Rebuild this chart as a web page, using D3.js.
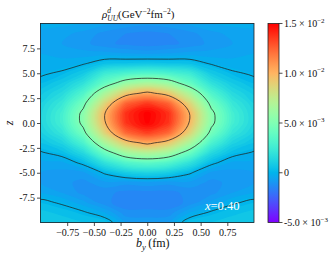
<!DOCTYPE html>
<html>
<head>
<meta charset="utf-8">
<script src="https://cdn.jsdelivr.net/npm/d3@7"></script>
<style>
  body { margin: 0; background: #fff; }
  svg { display: block; font-family: 'Liberation Serif', 'Times New Roman', serif; }
</style>
</head>
<body>
<svg width="335" height="260"></svg>
<script>
// where the density was sampled (b_y across, z down the rows)
const bValues = [-1, -0.8, -0.6, -0.4, -0.2, 0, 0.2, 0.4, 0.6, 0.8, 1]
const zValues = [10, 9, 8, 7, 6, 5, 4, 3, 2, 1, 0, -1, -2, -3, -4, -5, -6, -7, -8, -9, -10]

// rho values, one row per z value
const rhoRows = [
  [-0.0003, -0.0003, -0.0004, -0.0006, -0.0008, -0.0009, -0.0008, -0.0006, -0.0004, -0.0003, -0.0003],
  [-0.0005, -0.0006, -0.0008, -0.0011, -0.0013, -0.0014, -0.0013, -0.0011, -0.0008, -0.0006, -0.0005],
  [-0.0005, -0.0007, -0.0009, -0.0012, -0.0014, -0.0015, -0.0014, -0.0012, -0.0009, -0.0007, -0.0005],
  [-0.0004, -0.0005, -0.0006, -0.0006, -0.0007, -0.0008, -0.0007, -0.0006, -0.0006, -0.0005, -0.0004],
  [-0.0003, -0.0003, -0.0001, 0.0004, 0.0005, 0.0006, 0.0005, 0.0004, -0.0001, -0.0003, -0.0003],
  [-0.0001, 0.0001, 0.0008, 0.0024, 0.0030, 0.0033, 0.0030, 0.0024, 0.0008, 0.0001, -0.0001],
  [0.0002, 0.0008, 0.0019, 0.0040, 0.0060, 0.0067, 0.0060, 0.0040, 0.0019, 0.0008, 0.0002],
  [0.0007, 0.0015, 0.0032, 0.0066, 0.0092, 0.0104, 0.0092, 0.0066, 0.0032, 0.0015, 0.0007],
  [0.0011, 0.0022, 0.0045, 0.0086, 0.0124, 0.0135, 0.0124, 0.0086, 0.0045, 0.0022, 0.0011],
  [0.0013, 0.0027, 0.0054, 0.0099, 0.0138, 0.0151, 0.0138, 0.0099, 0.0054, 0.0027, 0.0013],
  [0.0013, 0.0027, 0.0054, 0.0098, 0.0137, 0.0150, 0.0137, 0.0098, 0.0054, 0.0027, 0.0013],
  [0.0010, 0.0021, 0.0045, 0.0087, 0.0123, 0.0134, 0.0123, 0.0087, 0.0045, 0.0021, 0.0010],
  [0.0005, 0.0012, 0.0030, 0.0066, 0.0092, 0.0104, 0.0092, 0.0066, 0.0030, 0.0012, 0.0005],
  [-0.0001, 0.0003, 0.0015, 0.0041, 0.0063, 0.0070, 0.0063, 0.0041, 0.0015, 0.0003, -0.0001],
  [-0.0005, -0.0005, 0.0002, 0.0019, 0.0032, 0.0037, 0.0032, 0.0019, 0.0002, -0.0005, -0.0005],
  [-0.0007, -0.0008, -0.0008, 0.0001, 0.0009, 0.0012, 0.0009, 0.0001, -0.0008, -0.0008, -0.0007],
  [-0.0007, -0.0009, -0.0011, -0.0008, -0.0009, -0.0008, -0.0009, -0.0008, -0.0011, -0.0009, -0.0007],
  [-0.0004, -0.0007, -0.0011, -0.0012, -0.0014, -0.0014, -0.0014, -0.0012, -0.0011, -0.0007, -0.0004],
  [0.0002, -0.0001, -0.0006, -0.0012, -0.0015, -0.0015, -0.0015, -0.0012, -0.0006, -0.0001, 0.0002],
  [0.0006, 0.0004, 0.0001, -0.0004, -0.0012, -0.0012, -0.0012, -0.0004, 0.0001, 0.0004, 0.0006],
  [0.0008, 0.0007, 0.0005, 0.0004, -0.0007, -0.0008, -0.0007, 0.0004, 0.0005, 0.0007, 0.0008]
]

// black line levels
const contourLevels = [0, 0.005, 0.01]

const xTicks = [-0.75, -0.5, -0.25, 0, 0.25, 0.5, 0.75]
const xTickLabels = ['\u22120.75', '\u22120.50', '\u22120.25', '0.00', '0.25', '0.50', '0.75']
const yTicks = [-7.5, -5, -2.5, 0, 2.5, 5, 7.5]
const yTickLabels = ['-7.5', '-5.0', '-2.5', '0.0', '2.5', '5.0', '7.5']

// colorbar ticks: mantissa and power of ten
const cbTicks = [-0.005, 0, 0.005, 0.01, 0.015]
const cbMantissa = ['-5.0', '0', '5.0', '1.0', '1.5']
const cbExponent = ['\u22123', null, '\u22123', '\u22122', '\u22122']

const svg = d3.select('svg')

// plot box
const box = {left: 40.5, right: 254, top: 23.5, bottom: 222.5}
const boxW = box.right - box.left
const boxH = box.bottom - box.top

const xScale = d3.scaleLinear().domain([-1, 1]).range([box.left, box.right])
const yScale = d3.scaleLinear().domain([-10, 10]).range([box.bottom, box.top])

// matplotlib "rainbow" colormap
const rainbow = t => {
  const c = v => Math.round(255 * Math.max(0, Math.min(1, v)))
  return `rgb(${c(Math.abs(2 * t - 0.5))},${c(Math.sin(Math.PI * t))},${c(Math.cos(Math.PI * t / 2))})`
}
const norm = d3.scaleLinear().domain([-0.005, 0.015]).range([0, 1]).clamp(true)
const color = v => rainbow(norm(v))

// contours work in grid units, sample i sits at i + 0.5
const n = bValues.length, m = zValues.length
const values = rhoRows.flat()
const gx = d3.scaleLinear().domain([0.5, n - 0.5]).range([xScale(bValues[0]), xScale(bValues[n - 1])])
const gy = d3.scaleLinear().domain([0.5, m - 0.5]).range([yScale(zValues[0]), yScale(zValues[m - 1])])
const ringLine = d3.line().x(p => gx(p[0])).y(p => gy(p[1])).curve(d3.curveCatmullRomClosed)
const shapePath = geom => geom.coordinates
  .map(poly => poly.map(ring => ringLine(ring.slice(0, -1))).join(''))
  .join('')

svg.append('clipPath').attr('id', 'plotclip')
  .append('rect')
    .attr('x', box.left).attr('y', box.top)
    .attr('width', boxW).attr('height', boxH)

const plot = svg.append('g').attr('clip-path', 'url(#plotclip)')

// filled bands, many levels like contourf
const step = 0.0003
const fillLevels = d3.range(-0.0016, 0.0153, step)
plot.append('rect')
  .attr('x', box.left).attr('y', box.top)
  .attr('width', boxW).attr('height', boxH)
  .attr('fill', color(-0.0016))

plot.selectAll('path.band')
  .data(d3.contours().size([n, m]).thresholds(fillLevels)(values))
  .enter().append('path')
    .attr('class', 'band')
    .attr('d', shapePath)
    .attr('fill', d => color(d.value + step / 2))
    .attr('fill-rule', 'evenodd')

// black contour lines
plot.selectAll('path.line')
  .data(d3.contours().size([n, m]).thresholds(contourLevels)(values))
  .enter().append('path')
    .attr('class', 'line')
    .attr('d', shapePath)
    .attr('fill', 'none')
    .attr('stroke', '#222')
    .attr('stroke-width', 0.75)

// axes
const xAxis = svg.append('g')
  .attr('transform', `translate(0,${box.bottom})`)
  .call(d3.axisBottom(xScale).tickValues(xTicks).tickSize(3.5).tickSizeOuter(0)
    .tickFormat((d, i) => xTickLabels[i]))
const yAxis = svg.append('g')
  .attr('transform', `translate(${box.left},0)`)
  .call(d3.axisLeft(yScale).tickValues(yTicks).tickSize(3.5).tickSizeOuter(0)
    .tickFormat((d, i) => yTickLabels[i]))
for (const ax of [xAxis, yAxis]) {
  ax.select('.domain').remove()
  ax.selectAll('line').attr('stroke', '#222').attr('stroke-width', 0.8)
  ax.selectAll('text').attr('font-family', 'Liberation Serif').attr('font-size', 10).attr('fill', '#111')
}
xAxis.selectAll('text').attr('dy', '0.9em').attr('y', 4)
yAxis.selectAll('text').attr('x', -5.5)

// frame
svg.append('rect')
  .attr('x', box.left).attr('y', box.top)
  .attr('width', boxW).attr('height', boxH)
  .attr('fill', 'none').attr('stroke', '#222').attr('stroke-width', 0.8)

// title
const title = svg.append('text').attr('x', 102).attr('y', 18).attr('font-size', 11).attr('fill', '#111')
title.append('tspan').attr('font-style', 'italic').text('\u03c1')
title.append('tspan').attr('font-style', 'italic').attr('font-size', 7.5).attr('dy', -5).text('d')
title.append('tspan').attr('font-style', 'italic').attr('font-size', 7.5).attr('dx', -3.8).attr('dy', 8).text('UU')
title.append('tspan').attr('dy', -3).text('(GeV')
title.append('tspan').attr('font-size', 7.5).attr('dy', -4.5).text('\u22122')
title.append('tspan').attr('dy', 4.5).text('fm')
title.append('tspan').attr('font-size', 7.5).attr('dy', -4.5).text('\u22122')
title.append('tspan').attr('dy', 4.5).text(')')

// axis labels
const xLabel = svg.append('text').attr('x', 136).attr('y', 247).attr('font-size', 12).attr('fill', '#111')
xLabel.append('tspan').attr('font-style', 'italic').text('b')
xLabel.append('tspan').attr('font-style', 'italic').attr('font-size', 8.5).attr('dy', 3).text('y')
xLabel.append('tspan').attr('dy', -3).text('\u2009(fm)')

svg.append('text')
  .attr('transform', `translate(13,${yScale(0)}) rotate(-90)`)
  .attr('text-anchor', 'middle')
  .attr('font-size', 12).attr('font-style', 'italic').attr('fill', '#111')
  .text('z')

// x = 0.40 note
const note = svg.append('text').attr('x', 205).attr('y', 210).attr('font-size', 12.5).attr('fill', '#fff')
note.append('tspan').attr('font-style', 'italic').text('x')
note.append('tspan').text('=0.40')

// colorbar
const cbLeft = 268, cbWidth = 11
const cbScale = d3.scaleLinear().domain([-0.005, 0.015]).range([box.bottom, box.top])
const grad = svg.append('defs').append('linearGradient')
  .attr('id', 'cbgrad').attr('x1', 0).attr('y1', 1).attr('x2', 0).attr('y2', 0)
grad.selectAll('stop').data(d3.range(0, 1.0001, 0.025))
  .enter().append('stop')
    .attr('offset', d => d)
    .attr('stop-color', d => rainbow(d))
svg.append('rect')
  .attr('x', cbLeft).attr('y', box.top)
  .attr('width', cbWidth).attr('height', boxH)
  .attr('fill', 'url(#cbgrad)').attr('stroke', '#222').attr('stroke-width', 0.8)

const cbTick = svg.selectAll('g.cbtick').data(cbTicks)
  .enter().append('g')
    .attr('class', 'cbtick')
    .attr('transform', d => `translate(${cbLeft + cbWidth},${cbScale(d)})`)
cbTick.append('line').attr('x2', 3.5).attr('stroke', '#222').attr('stroke-width', 0.8)
const cbText = cbTick.append('text')
  .attr('x', 5).attr('dy', '0.35em').attr('font-size', 10).attr('fill', '#111')
cbText.append('tspan').text((d, i) => cbMantissa[i] + (cbExponent[i] ? ' \u00d7 10' : ''))
cbText.filter((d, i) => cbExponent[i])
  .append('tspan').attr('font-size', 7).attr('dy', -4.5).text(d => cbExponent[cbTicks.indexOf(d)])
</script>
</body>
</html>
